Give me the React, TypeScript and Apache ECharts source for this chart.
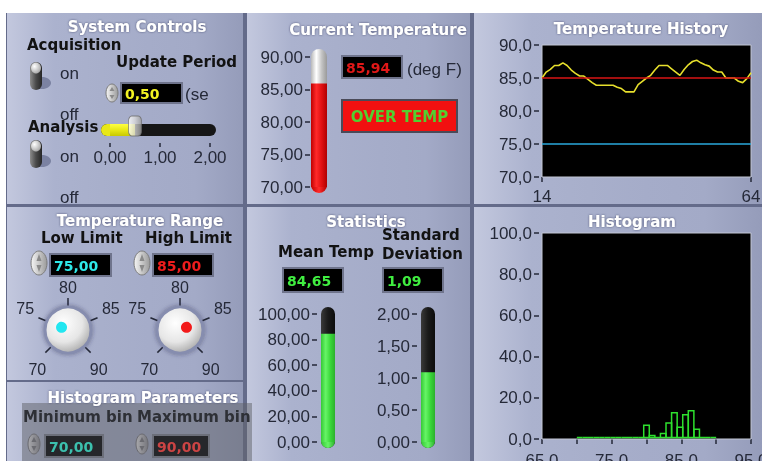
import React, { useEffect, useRef } from "react";
import * as echarts from "echarts";

// ---------------- data ----------------
const historyStart = 14;
const historyTemps = [
  85.0, 85.9, 86.3, 86.9, 86.9, 87.3, 86.9, 86.2, 85.7, 85.3, 85.3, 84.8, 84.3,
  83.9, 83.9, 83.9, 83.9, 83.9, 83.6, 83.4, 82.9, 82.9, 82.9, 84.0, 84.5, 85.0,
  85.4, 86.2, 86.9, 86.9, 86.9, 86.4, 85.9, 85.4, 86.3, 87.0, 87.5, 87.7, 87.3,
  87.0, 86.8, 86.2, 85.9, 85.9, 85.0, 85.0, 85.0, 84.5, 84.3, 84.9, 85.8,
];
const currentTemp = 85.94;
const updatePeriod = 0.5;
const lowLimit = 75;
const highLimit = 85;
const knobScale = [70, 90];
const minBin = 70;
const maxBin = 90;
const histCounts = [0, 0, 0, 0, 0, 0, 0, 0, 0, 0, 0, 0, 6, 1, 0, 2, 7, 12, 5, 11, 13, 4, 0, 0, 0];
const meanTemp = 84.65;
const stdDev = 1.09;
const thermoRange = [70, 90, 5];
const meanRange = [0, 100, 20];
const stdRange = [0, 2, 0.5];
const sliderRange = [0, 2, 1];
const historyYRange = [70, 90, 5];
const histXRange = [65, 95, 5];
const histYRange = [0, 100, 20];

// ---------------- helpers ----------------
const BOLD = '"DejaVu Sans", Verdana, sans-serif';
const NUM = '"Liberation Sans", Arial, sans-serif';
const INK = "#252938";
const fmt = (v: number, d: number) => v.toFixed(d).replace(".", ",");
const LG = (x2: number, y2: number, stops: string[]) =>
  new echarts.graphic.LinearGradient(
    0, 0, x2, y2,
    stops.map((c, i) => ({ offset: i / (stops.length - 1), color: c }))
  );
const RG = (x: number, y: number, r: number, stops: [number, string][]) =>
  new echarts.graphic.RadialGradient(x, y, r, stops.map(([o, c]) => ({ offset: o, color: c })));

const rect = (x: number, y: number, w: number, h: number, fill: any, o: any = {}) => ({
  type: "rect",
  silent: true,
  z: o.z ?? 1,
  shape: { x, y, width: w, height: h, r: o.r ?? 0 },
  style: { fill, stroke: o.stroke ?? null, lineWidth: o.lw ?? 0 },
});
const text = (x: number, y: number, t: string, o: any = {}) => ({
  type: "text",
  silent: true,
  z: o.z ?? 10,
  x,
  y,
  style: {
    text: t,
    fill: o.fill ?? "#121212",
    font: o.font ?? `bold 15px ${BOLD}`,
    align: o.align ?? "left",
    verticalAlign: "middle",
    textShadowColor: o.shadow ?? "transparent",
    textShadowBlur: o.shadow ? 2 : 0,
  },
});
const title = (x: number, y: number, t: string) =>
  text(x, y, t, { fill: "#ffffff", font: `bold 15px ${BOLD}`, align: "center", shadow: "rgba(70,76,112,0.9)" });
const label = (x: number, y: number, t: string) => text(x, y, t, { fill: INK, font: `17px ${NUM}` });

const display = (x: number, y: number, w: number, h: number, val: string, color: string, dim = false) => [
  rect(x - 2, y - 2, w + 4, h + 4, dim ? "#6c6f7a" : "#6f748c", { z: 6 }),
  rect(x, y, w, h, dim ? "#26272b" : "#000000", { z: 7 }),
  text(x + 3, y + h / 2 + 1, val, { fill: color, font: `bold 14px ${BOLD}`, z: 8 }),
];
const incr = (cx: number, cy: number, rx: number, ry: number, dim = false) => [
  {
    type: "ellipse", silent: true, z: 6,
    shape: { cx, cy, rx, ry },
    style: { fill: dim ? LG(1, 0, ["#a8a8ac", "#76767c"]) : LG(1, 0, ["#f6f6f6", "#c8c8c8", "#9a9a9a"]), stroke: dim ? "#6a6a70" : "#7c7c7c", lineWidth: 1 },
  },
  { type: "polygon", silent: true, z: 7, shape: { points: [[cx - 2.5, cy - 2], [cx + 2.5, cy - 2], [cx, cy - ry + 3]] }, style: { fill: dim ? "#6a6a70" : "#8a8a8a" } },
  { type: "polygon", silent: true, z: 7, shape: { points: [[cx - 2.5, cy + 2], [cx + 2.5, cy + 2], [cx, cy + ry - 3]] }, style: { fill: dim ? "#6a6a70" : "#8a8a8a" } },
];
const toggle = (x: number, y: number) => [
  { type: "ellipse", silent: true, z: 2, shape: { cx: x + 12, cy: y + 21, rx: 9, ry: 6 }, style: { fill: "#7b82a2" } },
  { type: "rect", silent: true, z: 3, shape: { x, y, width: 12, height: 28, r: 6 }, style: { fill: LG(1, 0, ["#8c8c8c", "#4a4a4a", "#262626"]) } },
  { type: "ellipse", silent: true, z: 4, shape: { cx: x + 6, cy: y + 6, rx: 5, ry: 5.5 }, style: { fill: RG(0.35, 0.35, 0.8, [[0, "#ffffff"], [1, "#9a9a9a"]]) } },
];

const panelFill = () => LG(1, 0, ["#c3c8de", "#abb2ce", "#a8afcb", "#a5acc9", "#a3aac7", "#959cba"]);

const HIST_GRID = { left: 542, top: 45, width: 209, height: 132 };
const HISTO_GRID = { left: 542, top: 233, width: 209, height: 206 };
const gridBase = { outerBoundsMode: "none", containLabel: false };

function buildOption(): any {
  const g: any[] = [];
  // page + panels
  g.push(rect(0, 0, 762, 461, "#ffffff", { z: 0 }));
  g.push(rect(6, 13, 756, 448, "#646b8a", { z: 0 }));
  const panels = [
    [7, 13, 236, 191], [7, 207, 236, 173], [7, 382, 236, 79],
    [247, 13, 223, 191], [247, 207, 223, 254],
    [474, 13, 288, 191], [474, 207, 288, 254],
  ];
  panels.forEach(([x, y, w, h]) => g.push(rect(x, y, w, h, panelFill(), { z: 0 })));
  // plot areas (black, light frame)
  [HIST_GRID, HISTO_GRID].forEach((p) =>
    g.push(rect(p.left, p.top, p.width, p.height, "#000000", { stroke: "#c2c6d4", lw: 1, z: 1 }))
  );

  // titles
  g.push(title(137, 27, "System Controls"));
  g.push(title(378, 30, "Current Temperature"));
  g.push(title(641, 29, "Temperature History"));
  g.push(title(140, 221, "Temperature Range"));
  g.push(title(366, 222, "Statistics"));
  g.push(title(632, 222, "Histogram"));
  g.push(title(143, 398, "Histogram Parameters"));

  // system controls
  g.push(text(27, 45, "Acquisition"));
  g.push(text(116, 62, "Update Period"));
  g.push(...toggle(30, 62));
  g.push(label(60, 73, "on"));
  g.push(label(60, 114, "off"));
  g.push(text(28, 127, "Analysis", { z: 11 }));
  g.push(...toggle(30, 140));
  g.push(label(60, 156, "on"));
  g.push(label(60, 197, "off"));
  g.push(...incr(112, 93, 6, 9));
  g.push(...display(122, 84, 59, 18, fmt(updatePeriod, 2), "#f2f222"));
  g.push(label(185, 94, "(se"));
  // slider track
  g.push(rect(101, 124, 115, 12, "#161616", { r: 6, z: 1 }));
  g.push(rect(101, 124, 12, 12, "#e8e818", { r: [6, 0, 0, 6], z: 1 }));

  // current temperature
  g.push(rect(311, 49, 16, 144, LG(1, 0, ["#b8b8b8", "#ffffff", "#c4c4c4", "#9a9a9a"]), { r: 8, z: 1 }));
  g.push(rect(311, 178, 16, 15, LG(1, 0, ["#c00000", "#ff2a2a", "#b00000"]), { r: [0, 0, 8, 8], z: 1 }));
  g.push(...display(343, 57, 58, 20, fmt(currentTemp, 2), "#e01818"));
  g.push(label(407, 69, "(deg F)"));
  if (currentTemp > highLimit) {
    g.push(rect(342, 100, 115, 32, "#f21010", { stroke: "#4a4a58", lw: 2, z: 6 }));
    g.push(text(399.5, 117, "OVER TEMP", { fill: "#52d030", font: `bold 15px ${BOLD}`, align: "center", z: 8 }));
  }

  // temperature range
  g.push(text(41, 238, "Low Limit"));
  g.push(text(145, 238, "High Limit"));
  g.push(...incr(39, 263, 8, 12));
  g.push(...display(51, 255, 59, 20, fmt(lowLimit, 2), "#2ee8e8"));
  g.push(...incr(142, 263, 8, 12));
  g.push(...display(154, 255, 58, 20, fmt(highLimit, 2), "#ee1c1c"));

  // statistics
  g.push(text(278, 252, "Mean Temp"));
  g.push(text(382, 235, "Standard"));
  g.push(text(382, 254, "Deviation"));
  g.push(...display(284, 269, 58, 22, fmt(meanTemp, 2), "#40ee40"));
  g.push(...display(384, 269, 58, 22, fmt(stdDev, 2), "#40ee40"));
  g.push(rect(321, 307, 14, 141, LG(1, 0, ["#3a3a3a", "#1a1a1a", "#0c0c0c"]), { r: 7, z: 1 }));
  g.push(rect(421, 307, 14, 141, LG(1, 0, ["#3a3a3a", "#1a1a1a", "#0c0c0c"]), { r: 7, z: 1 }));
  g.push(rect(321, 436, 14, 12, LG(1, 0, ["#36c836", "#66f466", "#2cb02c"]), { r: [0, 0, 7, 7], z: 1 }));
  g.push(rect(421, 436, 14, 12, LG(1, 0, ["#36c836", "#66f466", "#2cb02c"]), { r: [0, 0, 7, 7], z: 1 }));

  // histogram parameters (disabled)
  g.push(rect(22, 403, 230, 58, "rgba(96,98,104,0.5)", { z: 5 }));
  g.push(text(23, 417, "Minimum bin", { fill: "#2e3036", z: 9 }));
  g.push(text(137, 417, "Maximum bin", { fill: "#2e3036", z: 9 }));
  g.push(...incr(34, 444, 6, 10, true));
  g.push(...display(46, 436, 56, 20, fmt(minBin, 2), "#3cc0ae", true));
  g.push(...incr(142, 444, 6, 10, true));
  g.push(...display(154, 436, 54, 20, fmt(maxBin, 2), "#cc4444", true));

  const tick = { show: true, length: 5, lineStyle: { color: INK, width: 1.5 } };
  const lab = (d: number, margin: number) => ({
    color: INK, fontSize: 17, fontFamily: NUM, margin,
    formatter: (v: number) => fmt(v, d),
  });
  const vAxis = (gridIndex: number, r: number[], d: number, extra: any = {}) => ({
    gridIndex, type: "value", min: r[0], max: r[1], interval: r[2],
    axisLine: { show: false }, splitLine: { show: false },
    axisTick: tick, axisLabel: lab(d, 7), ...extra,
  });
  const catAxis = (gridIndex: number) => ({ gridIndex, type: "category", data: ["v"], show: false });

  const histData = histCounts.map((c, i) => {
    const w = (maxBin - minBin) / histCounts.length;
    return [minBin + i * w, minBin + (i + 1) * w, c];
  });

  const knob = (cx: number, value: number, dot: string) => ({
    type: "gauge",
    center: [cx, 330],
    radius: 32,
    min: knobScale[0],
    max: knobScale[1],
    startAngle: 225,
    endAngle: -45,
    splitNumber: 4,
    silent: true,
    axisLine: { show: false, lineStyle: { width: 0 } },
    progress: { show: false },
    axisTick: { show: false },
    splitLine: { show: true, length: 8, distance: 0, lineStyle: { color: INK, width: 1.5 } },
    axisLabel: { distance: -32, color: INK, fontSize: 16, fontFamily: NUM, lineHeight: 26 },
    pointer: { show: true, icon: "circle", length: 11, width: 11, offsetCenter: [0, -1.5], itemStyle: { color: dot } },
    anchor: {
      show: true, showAbove: false, size: 46,
      itemStyle: {
        color: RG(0.4, 0.35, 0.75, [[0, "#ffffff"], [0.55, "#e6e6e6"], [1, "#9c9c9c"]]),
        borderColor: "#868daf", borderWidth: 3,
        shadowBlur: 4, shadowColor: "rgba(40,44,80,0.5)",
      },
    },
    title: { show: false },
    detail: { show: false },
    data: [{ value }],
  });

  return {
    animation: false,
    textStyle: { fontFamily: NUM },
    graphic: { elements: g },
    grid: [
      { ...gridBase, ...HIST_GRID },
      { ...gridBase, ...HISTO_GRID },
      { ...gridBase, left: 311, top: 57, width: 16, height: 130 },
      { ...gridBase, left: 321, top: 314, width: 14, height: 128 },
      { ...gridBase, left: 421, top: 314, width: 14, height: 128 },
      { ...gridBase, left: 110, top: 124, width: 100, height: 12 },
    ],
    xAxis: [
      {
        gridIndex: 0, type: "value", min: historyStart, max: historyStart + historyTemps.length - 1,
        axisLine: { show: false }, splitLine: { show: false },
        axisTick: { ...tick, customValues: [historyStart, historyStart + historyTemps.length - 1] },
        axisLabel: { ...lab(0, 11), formatter: (v: number) => String(v), customValues: [historyStart, historyStart + historyTemps.length - 1] },
      },
      vAxis(1, histXRange, 1, {
        axisLabel: { ...lab(1, 13), formatter: (v: number) => (Math.round(v) % 10 === 5 ? fmt(v, 1) : "") },
      }),
      catAxis(2),
      catAxis(3),
      catAxis(4),
      vAxis(5, sliderRange, 2, { offset: 7, axisTick: { ...tick, length: 4 }, axisLabel: lab(2, 6) }),
    ],
    yAxis: [
      vAxis(0, historyYRange, 1, { offset: 3 }),
      vAxis(1, histYRange, 1, { offset: 3 }),
      vAxis(2, thermoRange, 2, { offset: 1 }),
      vAxis(3, meanRange, 2, { offset: 4 }),
      vAxis(4, stdRange, 2, { offset: 4 }),
      { gridIndex: 5, type: "category", data: ["p"], show: false },
    ],
    series: [
      {
        type: "line", xAxisIndex: 0, yAxisIndex: 0, showSymbol: false, z: 4,
        data: historyTemps.map((v, i) => [historyStart + i, v]),
        lineStyle: { color: "#e6df2c", width: 1.6 },
        markLine: {
          silent: true, symbol: ["none", "none"], label: { show: false },
          data: [
            { yAxis: highLimit, lineStyle: { color: "#d81414", width: 1.5, type: "solid" } },
            { yAxis: lowLimit, lineStyle: { color: "#2aa8dc", width: 1.5, type: "solid" } },
          ],
        },
      },
      {
        type: "custom", xAxisIndex: 1, yAxisIndex: 1, clip: false, z: 4,
        data: histData, encode: { x: [0, 1], y: 2 },
        renderItem: (_p: any, api: any) => {
          const a = api.coord([api.value(0), api.value(2)]);
          const b = api.coord([api.value(1), 0]);
          return {
            type: "rect",
            shape: { x: a[0], y: a[1] - 1.5, width: b[0] - a[0], height: b[1] - a[1] },
            style: { fill: "none", stroke: "#2ee02e", lineWidth: 1.5 },
          };
        },
      },
      {
        type: "bar", xAxisIndex: 2, yAxisIndex: 2, barWidth: 16, data: [currentTemp],
        itemStyle: { color: LG(1, 0, ["#c00000", "#ff2a2a", "#e01010", "#b00000"]) },
      },
      {
        type: "bar", xAxisIndex: 3, yAxisIndex: 3, barWidth: 14, data: [meanTemp],
        itemStyle: { color: LG(1, 0, ["#36c836", "#66f466", "#3ad83a", "#2cb02c"]) },
      },
      {
        type: "bar", xAxisIndex: 4, yAxisIndex: 4, barWidth: 14, data: [stdDev],
        itemStyle: { color: LG(1, 0, ["#36c836", "#66f466", "#3ad83a", "#2cb02c"]) },
      },
      {
        type: "bar", xAxisIndex: 5, yAxisIndex: 5, barWidth: 12, data: [updatePeriod],
        itemStyle: { color: LG(0, 1, ["#ffff40", "#e8e818", "#c8c800"]) },
      },
      {
        type: "scatter", xAxisIndex: 5, yAxisIndex: 5, z: 5,
        data: [[updatePeriod, "p"]],
        symbol: "roundRect", symbolSize: [13, 20], symbolOffset: [0, -4],
        itemStyle: { color: LG(1, 0, ["#ffffff", "#d8d8d8", "#9a9a9a"]), borderColor: "#6a6a6a", borderWidth: 1 },
      },
      knob(68, lowLimit, "#22e6f0"),
      knob(180, highLimit, "#f21a1a"),
    ],
  };
}

export default function App() {
  const ref = useRef<HTMLDivElement>(null);
  useEffect(() => {
    if (!ref.current) return;
    const chart = echarts.init(ref.current, undefined, { renderer: "svg" });
    chart.setOption(buildOption());
    return () => chart.dispose();
  }, []);
  return <div ref={ref} style={{ position: "fixed", left: 0, top: 0, width: 762, height: 461 }} />;
}
